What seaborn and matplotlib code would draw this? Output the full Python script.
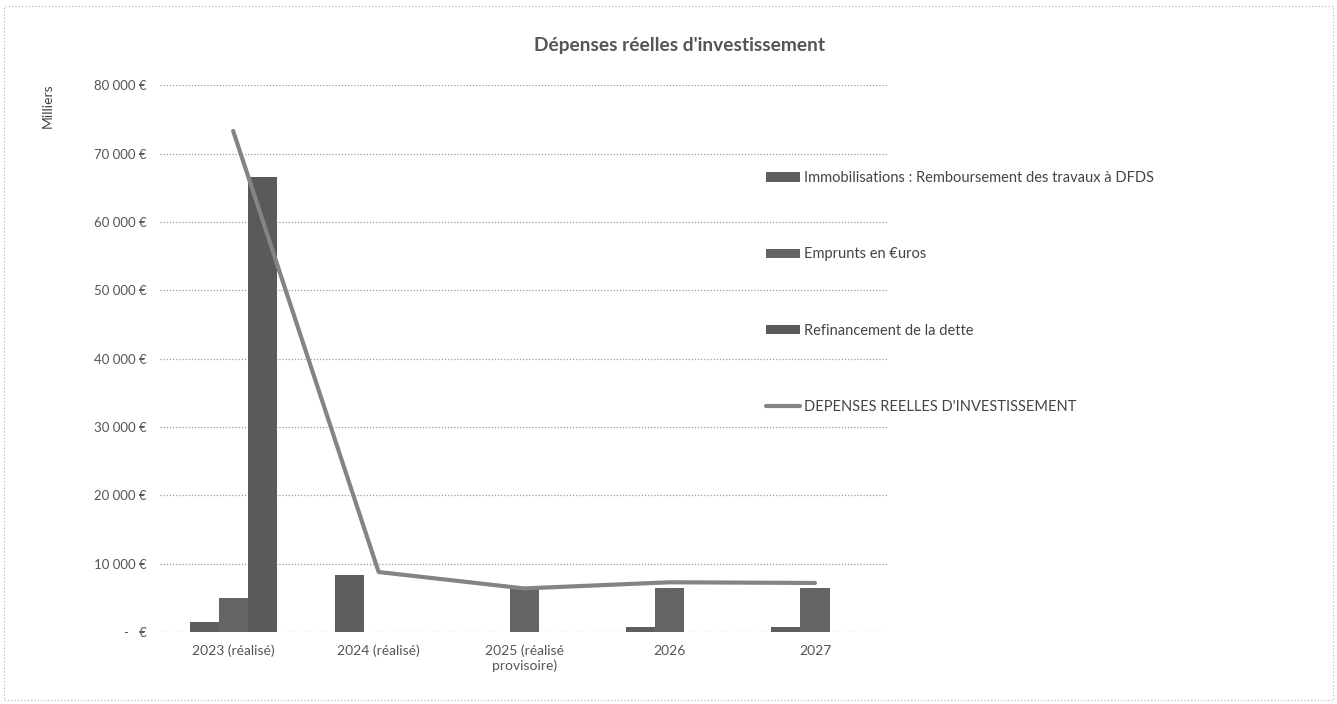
import matplotlib
matplotlib.use("Agg")
import matplotlib.pyplot as plt
import matplotlib.ticker as mticker
from matplotlib.patches import Rectangle
import numpy as np
import pandas as pd
import seaborn as sns

# Exercise labels (x axis)
years = ["2023 (réalisé)", "2024 (réalisé)", "2025 (réalisé\nprovisoire)", "2026", "2027"]

# Series, in thousands of euros
immobilisations = [1500, 8300, 0, 800, 800]
emprunts = [5000, 0, 6300, 6500, 6500]
refinancement = [66500, 0, 0, 0, 0]
depenses_totales = [73300, 8800, 6400, 7300, 7200]

series_names = [
    "Immobilisations : Remboursement des travaux à DFDS",
    "Emprunts en €uros",
    "Refinancement de la dette",
]
line_name = "DEPENSES REELLES D'INVESTISSEMENT"
yticks = [0, 10000, 20000, 30000, 40000, 50000, 60000, 70000, 80000]

bars = pd.DataFrame({
    "annee": np.repeat(years, 3),
    "serie": series_names * len(years),
    "valeur": [v for trio in zip(immobilisations, emprunts, refinancement) for v in trio],
})
totals = pd.DataFrame({"annee": years, "total": depenses_totales})

sns.set_theme(style="white")
plt.rcParams["font.family"] = ["Lato", "DejaVu Sans"]

fig = plt.figure(figsize=(13.37, 7.04), dpi=100)
ax = fig.add_axes([0.12, 0.102, 0.544, 0.777])

bar_colors = ["#5e5e5e", "#646464", "#5a5a5a"]
sns.barplot(data=bars, x="annee", y="valeur", hue="serie", order=years,
            hue_order=series_names, palette=bar_colors, width=0.6,
            saturation=1, errorbar=None, ax=ax, legend=True,
            edgecolor="none", linewidth=0)
sns.pointplot(data=totals, x="annee", y="total", order=years, color="#848484",
              markers="", linestyles="-", linewidth=3.0, errorbar=None,
              label=line_name, ax=ax)

ax.set_ylim(0, 80000)
ax.set_xlim(-0.5, len(years) - 0.5)
ax.set_yticks(yticks)

def euro_fmt(v, _pos):
    if v == 0:
        return "-   €"
    return f"{int(v):,}".replace(",", " ") + " €"

ax.yaxis.set_major_formatter(mticker.FuncFormatter(euro_fmt))
ax.grid(axis="y", color="#9a9a9a", linestyle=(0, (1, 1.5)), linewidth=0.9)
ax.set_axisbelow(True)
for s in ax.spines.values():
    s.set_visible(False)
ax.tick_params(axis="y", length=0, pad=10, labelsize=9.5, labelcolor="#555555")
ax.tick_params(axis="x", length=0, pad=9, labelsize=10, labelcolor="#555555")
ax.set_xlabel("")
ax.set_ylabel("")

fig.text(0.036, 0.85, "Milliers", rotation=90, ha="center", va="center",
         fontsize=10, color="#444444")
fig.text(0.508, 0.935, "Dépenses réelles d'investissement", ha="center",
         va="center", fontsize=13.8, fontweight="bold", color="#555555")

handles, labels = ax.get_legend_handles_labels()
if ax.get_legend() is not None:
    ax.get_legend().remove()
fig.legend(handles, labels, loc="upper left", bbox_to_anchor=(0.573, 0.757),
           frameon=False, fontsize=10.5, labelcolor="#444444", labelspacing=4.27,
           handlelength=2.3, handleheight=0.6, handletextpad=0.3,
           borderpad=0, borderaxespad=0)

# Dotted frame around the chart area
fig.patches.append(Rectangle((0.003, 0.006), 0.994, 0.985, transform=fig.transFigure,
                             fill=False, edgecolor="#b0b0b0", linewidth=0.8,
                             linestyle=(0, (1, 2))))

fig.savefig("out.png", dpi=100)
